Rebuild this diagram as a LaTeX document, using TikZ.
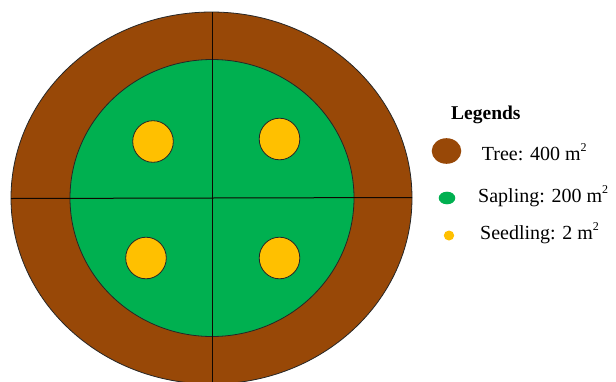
\documentclass[tikz,border=0pt]{standalone}
\usepackage{fontspec}
\setmainfont{Liberation Serif}
\definecolor{treebrown}{HTML}{984807}
\definecolor{saplinggreen}{HTML}{00B050}
\definecolor{seedyellow}{HTML}{FFC000}
\newcommand{\sqm}{m\raisebox{0.42em}{\fontsize{12}{12}\selectfont 2}}
\begin{document}
\begin{tikzpicture}[x=1pt,y=-1pt,
  outline/.style={draw=black!85, line width=0.8pt},
  divider/.style={draw=black!90!treebrown, line width=1pt},
  legtext/.style={anchor=base west, inner sep=0pt, font=\fontsize{20}{22}\selectfont},
  legtitle/.style={anchor=base west, inner sep=0pt, font=\fontsize{19.5}{22}\selectfont\bfseries}]
\useasboundingbox[fill=white] (0,0) rectangle (616,381);
% plot
\filldraw[fill=treebrown, outline] (211.5,198) ellipse (200.5 and 186);
\filldraw[fill=saplinggreen, outline] (212,198) ellipse (142 and 138.5);
\coordinate (vtop) at (212,12);
\coordinate (vbot) at (212,384);
\coordinate (hleft) at (11,198.5);
\coordinate (hright) at (412,197.5);
\draw[divider] (vtop) -- (vbot);
\draw[divider] (hleft) -- (hright);
\filldraw[fill=seedyellow, outline] (153,141.5) ellipse (20.3 and 20.8);
\filldraw[fill=seedyellow, outline] (279.5,139) ellipse (20.3 and 20.8);
\filldraw[fill=seedyellow, outline] (146,258) ellipse (20.3 and 20.8);
\filldraw[fill=seedyellow, outline] (279.5,258) ellipse (20.3 and 20.8);
% legend
\node[legtitle] (title) at (451,119.5) {Legends};
\fill[treebrown] (446.5,151) ellipse (14.8 and 12.8);
\fill[saplinggreen] (447,198) ellipse (8.3 and 6.3);
\fill[seedyellow] (449,235.5) ellipse (5.2 and 5);
\node[legtext] (tree) at (481.7,160) {Tree: 400 \sqm};
\node[legtext] (sapling) at (478,202) {Sapling: 200 \sqm};
\node[legtext] (seedling) at (480,239) {Seedling: 2 \sqm};
\end{tikzpicture}
\end{document}
